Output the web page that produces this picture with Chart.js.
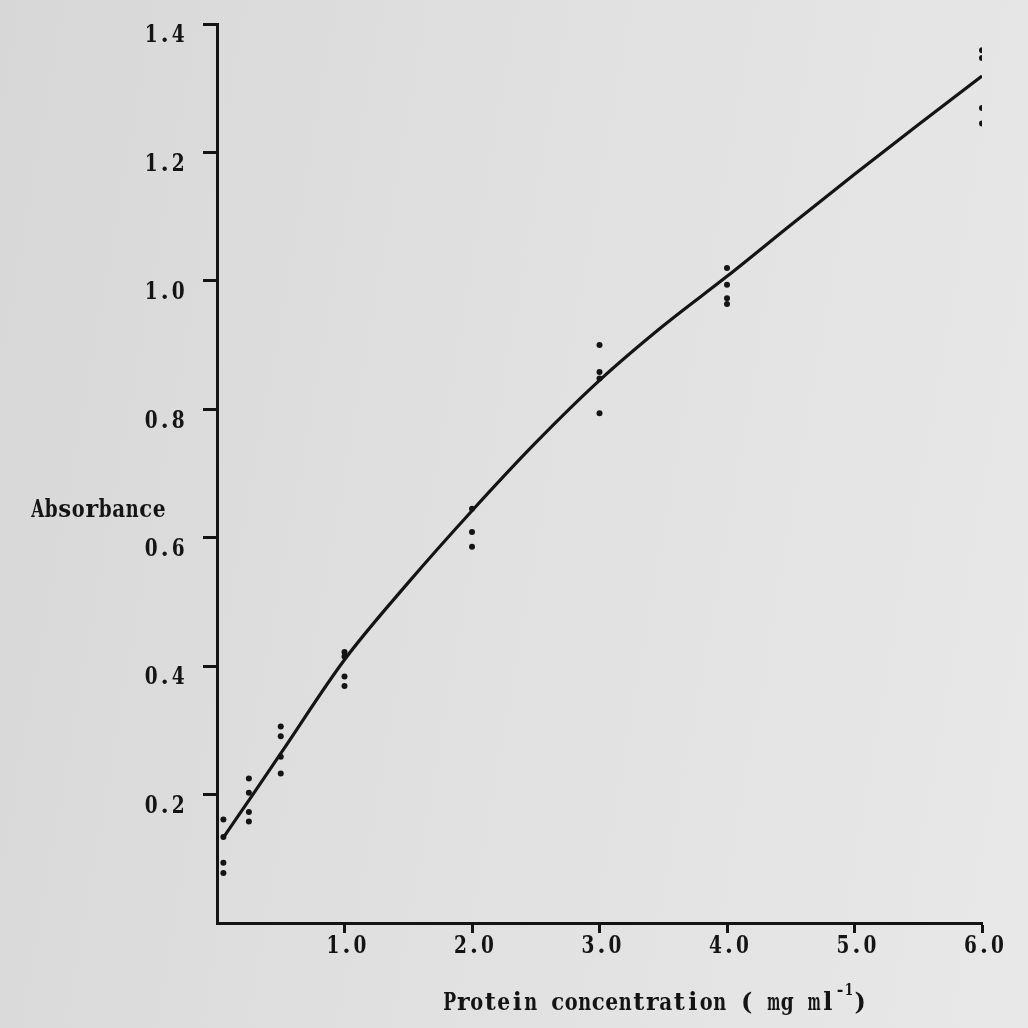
<!DOCTYPE html>
<html>
<head>
<meta charset="utf-8">
<script src="https://cdn.jsdelivr.net/npm/chart.js@4/dist/chart.umd.min.js"></script>
<style>
  html, body { margin: 0; padding: 0; }
  body {
    width: 1028px; height: 1028px; overflow: hidden;
    background: linear-gradient(100deg, #d7d7d7 0%, #e0e0e0 45%, #e8e8e8 100%);
  }
  #wrap { position: relative; width: 1028px; height: 1028px; }
</style>
</head>
<body>
<div id="wrap"><canvas id="chart" width="1028" height="1028"></canvas></div>
<script>
// Protein standard curve: absorbance of replicate samples against protein concentration
const concentration = [0.05, 0.25, 0.5, 1.0, 2.0, 3.0, 4.0, 6.0];
const replicate1 = [0.161, 0.225, 0.306, 0.422, 0.645, 0.900, 1.020, 1.359];
const replicate2 = [0.134, 0.203, 0.291, 0.415, 0.609, 0.858, 0.994, 1.347];
const replicate3 = [0.094, 0.173, 0.259, 0.384, 0.586, 0.848, 0.973, 1.269];
const replicate4 = [0.078, 0.158, 0.233, 0.369, null, 0.794, 0.964, 1.245];

// Hand-drawn best-fit curve through the replicates
const curveConcentration = [0.05, 0.25, 0.5, 1.0, 1.5, 2.0, 2.5, 3.0, 3.5, 4.0, 4.5, 5.0, 5.5, 6.0];
const curveAbsorbance = [0.133, 0.191, 0.264, 0.410, 0.530, 0.642, 0.748, 0.845, 0.930, 1.007, 1.087, 1.166, 1.243, 1.319];

const yTickValues = [0.2, 0.4, 0.6, 0.8, 1.0, 1.2, 1.4];
const xTickValues = [1.0, 2.0, 3.0, 4.0, 5.0, 6.0];

const yAxisLabel = 'Absorbance';
const xAxisLabel = 'Protein concentration ( mg ml';
const xAxisUnitPower = '-1';

const INK = '#141414';

const replicatePoints = [];
[replicate1, replicate2, replicate3, replicate4].forEach(series => {
  series.forEach((v, i) => {
    if (v !== null) replicatePoints.push({ x: concentration[i], y: v });
  });
});
const curvePoints = curveConcentration.map((c, i) => ({ x: c, y: curveAbsorbance[i] }));

// Fixed-pitch typewriter lettering: every character gets the same cell width
const PITCH = 13.5;
function typeLine(ctx, text, x, y, align, size, pitch) {
  const total = text.length * pitch;
  let left = align === 'right' ? x - total : align === 'center' ? x - total / 2 : x;
  ctx.save();
  ctx.font = 'bold ' + size + 'px "DejaVu Serif", "Liberation Serif", serif';
  ctx.fillStyle = INK;
  ctx.textAlign = 'center';
  ctx.textBaseline = 'middle';
  for (let i = 0; i < text.length; i++) {
    const ch = text[i];
    if (ch === ' ') continue;
    const w = ctx.measureText(ch).width;
    const fit = Math.min(1, (pitch - 0.6) / w);
    ctx.save();
    ctx.translate(left + (i + 0.5) * pitch, y);
    ctx.scale(fit, 1);
    ctx.fillText(ch, 0, 0);
    ctx.restore();
  }
  ctx.restore();
  return left + total;
}

const typed = {
  id: 'typed',
  afterDraw(chart) {
    const ctx = chart.ctx;
    const xs = chart.scales.x, ys = chart.scales.y;
    yTickValues.forEach(v => typeLine(ctx, v.toFixed(1), 185, ys.getPixelForValue(v) + 12, 'right', 24, PITCH));
    xTickValues.forEach(v => typeLine(ctx, v.toFixed(1), xs.getPixelForValue(v) + 2, 947, 'center', 24, PITCH));
    typeLine(ctx, yAxisLabel, 166, 511, 'right', 24, PITCH);

    const titleY = 1004;
    const end = typeLine(ctx, xAxisLabel, 443, titleY, 'left', 24, PITCH);
    const supEnd = typeLine(ctx, xAxisUnitPower, end + 1, titleY - 13, 'left', 16, 9);
    typeLine(ctx, ')', supEnd, titleY, 'left', 24, PITCH);
  }
};

new Chart(document.getElementById('chart'), {
  type: 'scatter',
  data: {
    datasets: [
      {
        label: 'replicates',
        data: replicatePoints,
        pointRadius: 3,
        pointHoverRadius: 3,
        pointBackgroundColor: INK,
        pointBorderWidth: 0,
        showLine: false
      },
      {
        label: 'fit',
        data: curvePoints,
        showLine: true,
        pointRadius: 0,
        borderColor: INK,
        borderWidth: 3.2,
        cubicInterpolationMode: 'monotone',
        fill: false
      }
    ]
  },
  options: {
    responsive: false,
    animation: false,
    events: [],
    layout: { padding: { top: 24, right: 46, left: 0, bottom: 0 } },
    plugins: { legend: { display: false }, tooltip: { enabled: false }, title: { display: false } },
    scales: {
      x: {
        type: 'linear', min: 0, max: 6,
        afterBuildTicks: s => { s.ticks = xTickValues.map(v => ({ value: v })); },
        afterFit: s => { s.height = 105; },
        ticks: { display: true, color: 'rgba(0,0,0,0)', font: { size: 1 } },
        grid: { display: true, drawOnChartArea: false, drawTicks: true, tickLength: 10, tickWidth: 3, tickColor: INK },
        border: { display: true, color: INK, width: 3 }
      },
      y: {
        type: 'linear', min: 0, max: 1.4,
        afterBuildTicks: s => { s.ticks = yTickValues.map(v => ({ value: v })); },
        afterFit: s => { s.width = 217; },
        ticks: { display: true, color: 'rgba(0,0,0,0)', font: { size: 1 } },
        grid: { display: true, drawOnChartArea: false, drawTicks: true, tickLength: 14, tickWidth: 3, tickColor: INK },
        border: { display: true, color: INK, width: 3 }
      }
    }
  },
  plugins: [typed]
});
</script>
</body>
</html>
